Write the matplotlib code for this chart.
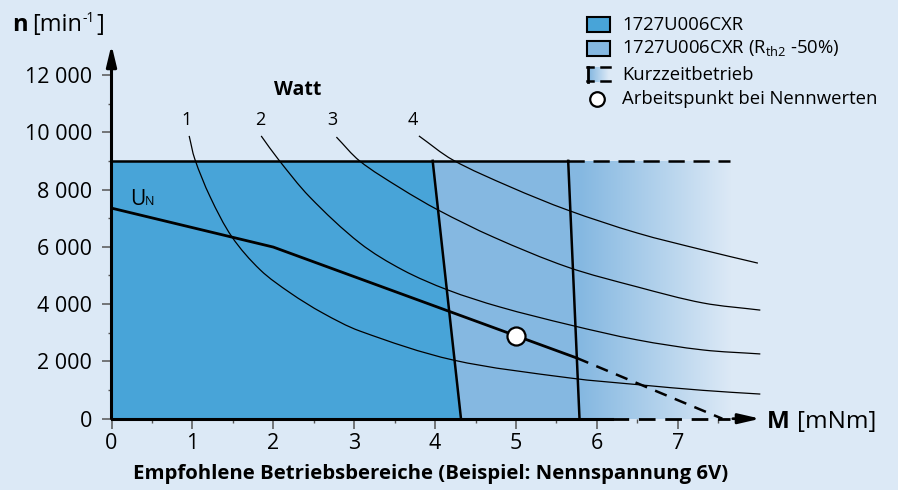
import numpy as np
import matplotlib
matplotlib.use('Agg')
import matplotlib.pyplot as plt
from matplotlib.patches import Polygon, Rectangle, PathPatch
from matplotlib.path import Path
from matplotlib.lines import Line2D

plt.rcParams['font.family'] = ['Open Sans', 'DejaVu Sans']

# Leistungskurven 1..4 Watt: M [mNm], n [min^-1]
w1_m = [0.96, 1.03, 1.22, 1.49, 1.84, 2.21, 2.61, 3.07, 4.22, 5.67, 6.50, 7.31, 8.02]
w1_n = [9870, 9060, 7740, 6340, 5190, 4390, 3690, 3060, 2050, 1420, 1190, 990, 860]
w2_m = [1.85, 2.06, 2.45, 3.07, 3.60, 4.16, 4.80, 5.67, 6.50, 7.31, 8.02]
w2_n = [9870, 9060, 7740, 6130, 5190, 4490, 3900, 3270, 2750, 2400, 2260]
w3_m = [2.78, 3.07, 3.57, 4.04, 4.72, 5.64, 6.50, 7.31, 8.02]
w3_n = [9830, 8990, 8050, 7280, 6340, 5290, 4600, 4040, 3790]
w4_m = [3.80, 4.22, 4.93, 5.64, 6.50, 7.31, 7.99]
w4_n = [9870, 9030, 8090, 7280, 6480, 5890, 5430]
watt_labels = ['1', '2', '3', '4']
watt_label_m = [0.93, 1.84, 2.73, 3.73]

# Kennlinie bei Nennspannung
un_m = [0.0, 2.0, 5.75]
un_n = [7350, 5990, 2120]
un_kurz_m = [5.75, 7.55]
un_kurz_n = [2120, 0]

# Arbeitspunkt
ap_m, ap_n = 5.0, 2880

# Betriebsbereiche
n_max = 9000
dauer_m = [4.32, 3.97]      # Grenze bei n=0 und n=n_max
rth_m = [5.785, 5.645]
kurz_end = 7.65

x_ticks = [0, 1, 2, 3, 4, 5, 6, 7]
y_ticks = [0, 2000, 4000, 6000, 8000, 10000, 12000]
y_labels = ['0', '2 000', '4 000', '6 000', '8 000', '10 000', '12 000']

bg = '#dce9f6'
dark = '#48a4d8'
light = '#85b8e1'

W, H = 898, 490
fig = plt.figure(figsize=(W / 100, H / 100), dpi=100, facecolor=bg)

def fx(px):
    return px / W

def fy(py):
    return 1 - py / H

x0_px, y0_px = 111.5, 418.7
px_m = 80.9
px_n = 57.3 / 2000

def smooth_path(m, n):
    # glatte Kurve durch alle Messpunkte (Hermite/Bezier, Sehnenparameter)
    p = np.column_stack([np.asarray(m) * px_m, np.asarray(n) * px_n])
    d = np.hypot(*np.diff(p, axis=0).T)
    tt = np.concatenate([[0], np.cumsum(d)])
    tan = np.zeros_like(p)
    tan[1:-1] = (p[2:] - p[:-2]) / (tt[2:] - tt[:-2])[:, None]
    tan[0] = (p[1] - p[0]) / d[0]
    tan[-1] = (p[-1] - p[-2]) / d[-1]
    verts = [p[0]]
    codes = [Path.MOVETO]
    for i in range(len(p) - 1):
        h = d[i] / 3
        verts += [p[i] + tan[i] * h, p[i + 1] - tan[i + 1] * h, p[i + 1]]
        codes += [Path.CURVE4] * 3
    v = np.array(verts)
    v[:, 0] /= px_m
    v[:, 1] /= px_n
    return Path(v, codes)

xmax, ymax = 8.2, 13300
ax = fig.add_axes([fx(x0_px), fy(y0_px), xmax * px_m / W, ymax * px_n / H])
ax.set_facecolor('none')
for s in ax.spines.values():
    s.set_visible(False)

# Flaechen
ax.add_patch(Polygon([(0, 0), (dauer_m[0], 0), (dauer_m[1], n_max), (0, n_max)],
                     closed=True, fc=dark, ec='none', zorder=1))
ax.add_patch(Polygon([(dauer_m[0], 0), (rth_m[0], 0), (rth_m[1], n_max), (dauer_m[1], n_max)],
                     closed=True, fc=light, ec='none', zorder=1))
c1 = np.array(matplotlib.colors.to_rgb(light))
c2 = np.array(matplotlib.colors.to_rgb(bg))
gx = np.linspace(5.6, kurz_end, 300)
t = np.clip((gx - rth_m[0]) / (kurz_end - rth_m[0]), 0, 1)
grad = (c1[None, :] * (1 - t[:, None]) + c2[None, :] * t[:, None])[None, :, :]
ax.imshow(grad, extent=[5.6, kurz_end, 0, n_max], aspect='auto', zorder=0.5,
          interpolation='bilinear')

# Leistungskurven
for m, n in [(w1_m, w1_n), (w2_m, w2_n), (w3_m, w3_n), (w4_m, w4_n)]:
    ax.add_patch(PathPatch(smooth_path(m, n), fill=False, ec='k', lw=0.9, zorder=2,
                           clip_on=False))
for lab, m in zip(watt_labels, watt_label_m):
    ax.text(m, 10440, lab, ha='center', va='center', fontsize=13)
ax.text(2.3, 11480, 'Watt', ha='center', va='center', fontsize=14, fontweight='bold')

# Grenzen
ax.plot([0, rth_m[1]], [n_max, n_max], color='k', lw=1.8, zorder=3)
ax.plot([rth_m[1], kurz_end], [n_max, n_max], color='k', lw=1.8, zorder=3,
        linestyle=(0, (6.5, 3.5)))
ax.plot([dauer_m[1], dauer_m[0]], [n_max, 0], color='k', lw=1.8, zorder=3)
ax.plot([rth_m[1], rth_m[0]], [n_max, 0], color='k', lw=1.8, zorder=3)

# Kennlinie U_N
ax.plot(un_m, un_n, color='k', lw=2, zorder=3)
ax.plot(un_kurz_m, un_kurz_n, color='k', lw=1.8, zorder=3, linestyle=(0, (5, 3.5)))
ax.text(0.23, 7460, 'U', fontsize=15, va='baseline')
ax.text(0.41, 7460, 'N', fontsize=9, va='baseline')
ax.plot([ap_m], [ap_n], marker='o', ms=13, mfc='white', mec='k', mew=1.6, zorder=5)

# Achsen mit Pfeilen
ax.plot([0, 6.19], [0, 0], color='k', lw=2.2, zorder=4, clip_on=False)
ax.plot([6.19, 7.65], [0, 0], color='k', lw=2, zorder=4, clip_on=False,
        linestyle=(0, (6, 3.5)))
ax.annotate('', xy=(8.02, 0), xytext=(7.68, 0),
            arrowprops=dict(arrowstyle='-|>,head_length=1.3,head_width=0.3',
                            mutation_scale=10, lw=2, color='k', shrinkA=0, shrinkB=0),
            zorder=4, annotation_clip=False)
ax.annotate('', xy=(0, 13050), xytext=(0, 0),
            arrowprops=dict(arrowstyle='-|>,head_length=1.25,head_width=0.3',
                            mutation_scale=10, lw=2.2, color='k', shrinkA=0, shrinkB=0),
            zorder=4, annotation_clip=False)

ax.set_xlim(0, xmax)
ax.set_ylim(0, ymax)
ax.set_xticks(x_ticks)
ax.set_xticklabels([str(v) for v in x_ticks])
ax.set_xticks(np.arange(0.5, 8, 1), minor=True)
ax.set_yticks(y_ticks)
ax.set_yticklabels(y_labels)
ax.set_yticks(np.arange(1000, 12000, 2000), minor=True)
ax.tick_params(which='major', length=7, width=1.1, color='#555555', labelsize=15.5)
ax.tick_params(which='minor', length=3, width=1, color='#555555')
ax.tick_params(axis='x', which='major', pad=3)
ax.tick_params(axis='y', which='major', pad=7)

# Achsenbeschriftungen
fig.text(fx(12), fy(31), 'n', fontsize=17, fontweight='bold', va='baseline')
t1 = fig.text(fx(32), fy(31), '[min', fontsize=17, va='baseline')
r = fig.canvas.get_renderer()
e1 = t1.get_window_extent(r)
t2 = fig.text(e1.x1 / W + 0.001, fy(22), '-1', fontsize=10, va='baseline')
e2 = t2.get_window_extent(r)
fig.text(e2.x1 / W + 0.001, fy(31), ']', fontsize=17, va='baseline')
fig.text(fx(767), fy(428), 'M', fontsize=17.5, fontweight='bold', va='baseline')
fig.text(fx(797), fy(428), '[mNm]', fontsize=17.5, va='baseline')
fig.text(fx(430.5), fy(474), 'Empfohlene Betriebsbereiche (Beispiel: Nennspannung 6V)',
         fontsize=14.7, fontweight='bold', ha='center', va='center')

# Legende
leg_y = [24.5, 48.5, 74.5, 99]
leg_txt = ['1727U006CXR', '1727U006CXR (R$_\\mathregular{th2}$ -50%)',
           'Kurzzeitbetrieb', 'Arbeitspunkt bei Nennwerten']
for yy, col in zip(leg_y[:2], [dark, light]):
    fig.add_artist(Rectangle((fx(587), fy(yy + 7.6)), 23 / W, 15.2 / H,
                             transform=fig.transFigure, fc=col, ec='k', lw=1.5))
iax = fig.add_axes([fx(589), fy(82), 20 / W, 15 / H])
iax.imshow(np.linspace(c1, c2, 50)[None, :, :], aspect='auto', interpolation='bilinear')
iax.axis('off')
fig.add_artist(Line2D([fx(588), fx(588)], [fy(67), fy(82)], color='k', lw=2,
                      transform=fig.transFigure))
for yy in [67.5, 81.5]:
    fig.add_artist(Line2D([fx(587), fx(593)], [fy(yy), fy(yy)], color='k', lw=1.8,
                          transform=fig.transFigure))
    fig.add_artist(Line2D([fx(601), fx(610)], [fy(yy), fy(yy)], color='k', lw=1.8,
                          transform=fig.transFigure))
fig.add_artist(Line2D([fx(597)], [fy(99)], marker='o', ms=10.5, mfc='white', mec='k',
                      mew=1.6, transform=fig.transFigure))
for yy, txt in zip(leg_y, leg_txt):
    fig.text(fx(622), fy(yy), txt, fontsize=13.3, va='center')

fig.savefig('out.png', dpi=100, facecolor=bg)
